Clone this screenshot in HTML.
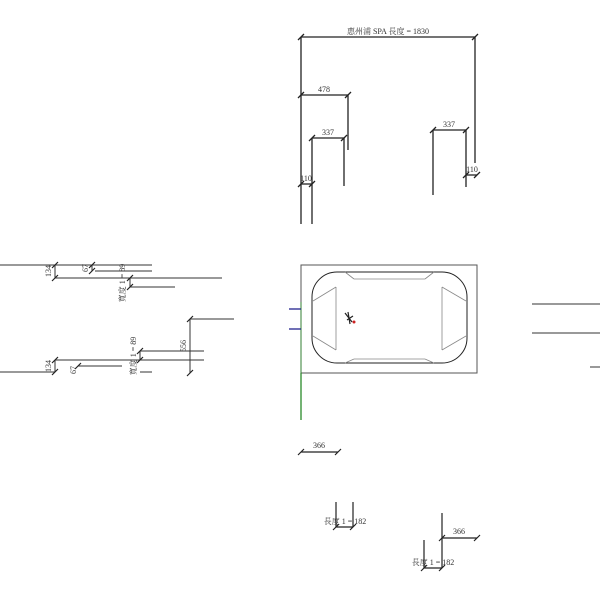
<!DOCTYPE html>
<html><head><meta charset="utf-8"><style>
html,body{margin:0;padding:0;background:#fff;width:600px;height:600px;overflow:hidden}
text{font-family:"Liberation Serif","Noto Serif CJK SC",serif;font-size:8px;fill:#333}
</style></head><body>
<svg width="600" height="600" viewBox="0 0 600 600" xmlns="http://www.w3.org/2000/svg">
<g stroke="#222" stroke-width="1.3" fill="none">
<!-- top dims -->
<path d="M301 37H475M301 37V224M475 37V163"/>
<path d="M301 95H348M348 95V150"/>
<path d="M312 138H344M312 138V224M344 138V186"/>
<path d="M301 184H312"/>
<path d="M433 130H466M433 130V195M466 130V187"/>
<path d="M466 175H477"/>
<!-- ticks -->
<path d="M298 40L304 34M472 40L478 34M298 98L304 92M345 98L351 92M309 141L315 135M341 141L347 135M298 187L304 181M309 187L315 181M430 133L436 127M463 133L469 127M463 178L469 172M474 178L480 172"/>
</g>
<text x="388" y="34" text-anchor="middle">惠州浦 SPA 長度 = 1830</text>
<text x="324" y="92" text-anchor="middle">478</text>
<text x="328" y="135" text-anchor="middle">337</text>
<text x="306" y="181" text-anchor="middle" font-size="7">110</text>
<text x="449" y="127" text-anchor="middle">337</text>
<text x="472" y="172" text-anchor="middle" font-size="7">110</text>
<!-- bath -->
<rect x="301" y="265" width="176" height="108" fill="none" stroke="#555" stroke-width="1"/>
<rect x="312" y="272" width="155" height="91" rx="25" fill="none" stroke="#222" stroke-width="1"/>
<g stroke="#888" stroke-width="0.8" fill="none">
<path d="M354 279H425M354 359H425M336 287V350M442 287V350"/>
<path d="M354 279L345 272M425 279L434 272M354 359L345 363M425 359L434 363"/>
<path d="M336 287L313 301M336 350L313 336M442 287L466 301M442 350L466 336"/>
</g>
<path d="M301 373V420" stroke="#2a8a2a" stroke-width="1.3"/>
<path d="M301 302V373" stroke="#2a8a2a" stroke-width="0.8"/>
<path d="M289 309H301M289 329H301" stroke="#1a1a8a" stroke-width="1.3"/>
<path d="M345 313L352 322M348 312L350 324M353 316L347 320" stroke="#222" stroke-width="1.2"/>
<circle cx="354" cy="322" r="1.5" fill="#c22"/>
<!-- left -->
<g stroke="#333" stroke-width="1" fill="none">
<path d="M0 265H152M95 271H152M55 278H222M130 287H175"/>
<path d="M55 265V278M92 265V271M130 278V287"/>
<path d="M190 319H234M190 319V373M140 351H204M55 360H204M0 372H55M140 372H152M78 366H122"/>
<path d="M55 360V372M140 351V360"/>
</g>
<g stroke="#222" stroke-width="1.2">
<path d="M52 268L58 262M52 281L58 275M89 268L95 262M89 274L95 268M127 281L133 275M127 290L133 284M187 322L193 316M187 376L193 370M52 363L58 357M52 375L58 369M75 369L81 363M137 354L143 348M137 363L143 357"/>
</g>
<text transform="translate(51 271) rotate(-90)" text-anchor="middle" font-size="7">134</text>
<text transform="translate(88 268) rotate(-90)" text-anchor="middle" font-size="7">67</text>
<text transform="translate(125 283) rotate(-90)" text-anchor="middle" font-size="7">寬度 1 = 89</text>
<text transform="translate(186 346) rotate(-90)" text-anchor="middle" font-size="7">556</text>
<text transform="translate(136 356) rotate(-90)" text-anchor="middle" font-size="7">寬度 1 = 89</text>
<text transform="translate(51 366) rotate(-90)" text-anchor="middle" font-size="7">134</text>
<text transform="translate(76 370) rotate(-90)" text-anchor="middle" font-size="7">67</text>
<!-- right -->
<path d="M532 304H600M532 333H600M590 367H600" stroke="#333" stroke-width="1"/>
<!-- bottom -->
<g stroke="#222" stroke-width="1.2" fill="none">
<path d="M301 452H338M298 455L304 449M335 455L341 449"/>
<path d="M336 502V527M353 502V527M336 527H353M333 530L339 524M350 530L356 524"/>
<path d="M424 540V568M442 513V568M424 568H442M421 571L427 565M439 571L445 565"/>
<path d="M442 538H477M439 541L445 535M474 541L480 535"/>
</g>
<text x="319" y="448" text-anchor="middle">366</text>
<text x="345" y="524" text-anchor="middle">長度 1 = 182</text>
<text x="459" y="534" text-anchor="middle">366</text>
<text x="433" y="565" text-anchor="middle">長度 1 = 182</text>
</svg>
</body></html>
